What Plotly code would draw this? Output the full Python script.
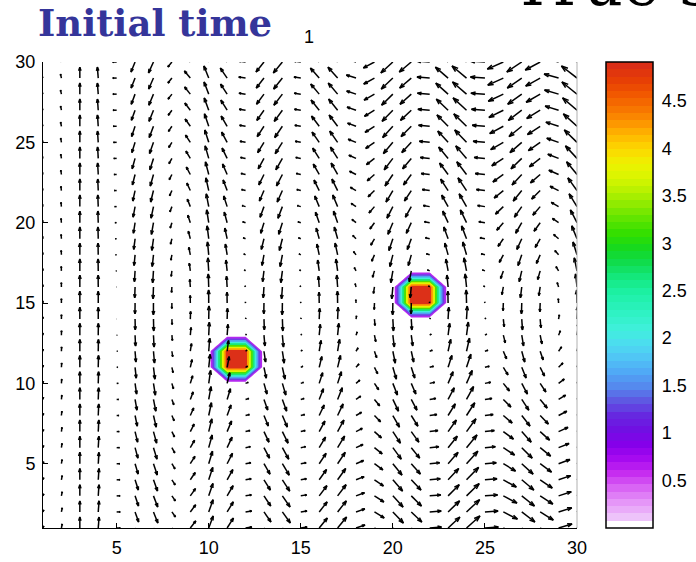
import numpy as np
import plotly.graph_objects as go

# ---------------- data ----------------
grid_x = list(range(1, 31))
grid_y = list(range(1, 31))

# top-row velocity components for every column (x-units, y-units)
u_top = [-0.05, -0.05, 0.00, -0.05, -0.22, -0.22, -0.27, -0.22, -0.33, -0.27,
         -0.38, -0.38, -0.43, -0.49, -0.38, -0.49, -0.54, -0.54, -0.60, -0.65,
         -0.65, -0.71, -0.71, -0.81, -0.81, -0.87, -0.81, -0.81, -0.81, -0.87]
v_col = [0.12, 0.25, 0.68, 0.68, 0.00, -0.62, -0.68, -0.31, 0.44, 0.75,
         0.62, 0.06, -0.62, -0.68, 0.06, 0.62, 0.68, 0.19, -0.37, -0.68,
         -0.62, 0.06, 0.68, 0.75, 0.06, -0.44, -0.62, -0.50, 0.25, 0.75]
# row factors (row 1 = bottom ... row 30 = top)
u_row = [-0.90, -0.88, -0.85, -0.81, -0.76, -0.70, -0.63, -0.55, -0.47, -0.38,
         -0.29, -0.20, -0.12, -0.05, 0.02, 0.09, 0.17, 0.25, 0.33, 0.41,
         0.49, 0.57, 0.65, 0.72, 0.79, 0.85, 0.90, 0.94, 0.97, 1.00]
v_row = [1.00, 1.01, 1.02, 1.03, 1.04, 1.05, 1.06, 1.06, 1.07, 1.07,
         1.08, 1.08, 1.08, 1.08, 1.08, 1.08, 1.08, 1.07, 1.07, 1.06,
         1.06, 1.05, 1.05, 1.04, 1.03, 1.03, 1.02, 1.01, 1.00, 1.00]

# scalar field: peak cells of the two blobs
peak_x = [11, 12, 11, 12, 21, 22, 21, 22]
peak_y = [11, 11, 12, 12, 15, 15, 16, 16]
peak_v = [4.9, 4.9, 4.9, 4.9, 4.9, 4.9, 4.9, 4.9]

contour_levels = dict(start=0.5, end=4.5, size=0.5)
cbar_ticks = [0.5, 1, 1.5, 2, 2.5, 3, 3.5, 4, 4.5]
cbar_max = 4.91

# ---------------- layout geometry ----------------
W, H = 696, 562
ML, MR, MT, MB = 43, 119, 62, 34
pw, ph = W - ML - MR, H - MT - MB
sx = pw / (grid_x[-1] - grid_x[0])
sy = ph / (grid_y[-1] - grid_y[0])
CB_LEFT, CB_W = 606, 47

# ---------------- colours ----------------
anchors = [
    (0.00, "#ffffff"), (0.08, "#ecc0fa"), (0.25, "#e490f8"), (0.40, "#d860f4"),
    (0.55, "#c428f0"), (0.70, "#a408f0"), (0.85, "#8400ea"), (1.00, "#7010e2"),
    (1.15, "#6628e0"), (1.30, "#5e58e2"), (1.45, "#5588ee"), (1.60, "#50a8f6"),
    (1.75, "#50c4f6"), (1.90, "#4cdcf0"), (2.05, "#40f0dc"), (2.25, "#2cf2c0"),
    (2.45, "#1cf0a2"), (2.60, "#14e87e"), (2.75, "#10dc50"), (2.90, "#14d820"),
    (3.05, "#30de00"), (3.20, "#5ae400"), (3.35, "#88ea00"), (3.50, "#b4f000"),
    (3.65, "#d8f600"), (3.80, "#eef200"), (3.95, "#fcd800"), (4.10, "#ffb800"),
    (4.25, "#fc9000"), (4.40, "#f67000"), (4.55, "#f05400"), (4.70, "#e63c06"),
    (4.85, "#da2c18"), (4.91, "#d82a1a"),
]


def hex2rgb(h):
    h = h.lstrip("#")
    return [int(h[i:i + 2], 16) for i in (0, 2, 4)]


def cmap(val):
    for (a0, c0), (a1, c1) in zip(anchors[:-1], anchors[1:]):
        if a0 <= val <= a1:
            t = 0 if a1 == a0 else (val - a0) / (a1 - a0)
            r0, r1 = hex2rgb(c0), hex2rgb(c1)
            return "rgb(%d,%d,%d)" % tuple(round(r0[i] + t * (r1[i] - r0[i])) for i in range(3))
    return "rgb(%d,%d,%d)" % tuple(hex2rgb(anchors[-1][1]))


NB = 64
cb_scale = []
for i in range(NB):
    c = cmap(i * cbar_max / NB)
    cb_scale.append([i / NB, c])
    cb_scale.append([(i + 1) / NB, c])

# contour band colours (below first level, then each band upward)
band_cols = ["#ffffff", "#b428f0", "#6a40e4", "#50a0f4", "#40ecdc",
             "#18e878", "#50e000", "#e4f400", "#ffa400", "#dc3018"]
nb = len(band_cols)
cont_scale = []
for i, c in enumerate(band_cols):
    lo = max(0, (i - 0.5) / (nb - 1))
    hi = min(1, (i + 0.5) / (nb - 1))
    cont_scale.append([lo, c])
    cont_scale.append([hi, c])

# ---------------- build field ----------------
z = np.zeros((len(grid_y), len(grid_x)))
for px_, py_, pv in zip(peak_x, peak_y, peak_v):
    z[grid_y.index(py_), grid_x.index(px_)] = pv

fig = go.Figure()
fig.add_trace(go.Contour(
    x=grid_x, y=grid_y, z=z,
    contours=dict(coloring="fill", showlines=False, **contour_levels),
    autocontour=False,
    colorscale=cont_scale, showscale=False,
    line=dict(width=0, smoothing=0),
    hoverinfo="skip",
))

# quiver (MATLAB-style arrows, computed in pixel space)
alpha, beta = 0.33, 0.33
qx, qy = [], []
for j, yv in enumerate(grid_y):
    for k, xv in enumerate(grid_x):
        u = u_top[k] * u_row[j]
        v = v_col[k] * v_row[j]
        du, dv = u * sx, v * sy
        hx, hy = xv + u, yv + v
        b1x = hx + (-alpha * (du + beta * dv)) / sx
        b1y = hy + (-alpha * (dv - beta * du)) / sy
        b2x = hx + (-alpha * (du - beta * dv)) / sx
        b2y = hy + (-alpha * (dv + beta * du)) / sy
        qx += [xv, hx, None, b1x, hx, b2x, None]
        qy += [yv, hy, None, b1y, hy, b2y, None]

fig.add_trace(go.Scatter(x=qx, y=qy, mode="lines",
                         line=dict(color="black", width=1.5),
                         hoverinfo="skip", showlegend=False))

# colour bar (64-step colormap)
fig.add_trace(go.Scatter(
    x=[-10], y=[-10], mode="markers", showlegend=False, hoverinfo="skip",
    marker=dict(size=1, color=[0], cmin=0, cmax=cbar_max, colorscale=cb_scale,
                showscale=True,
                colorbar=dict(
                    x=(CB_LEFT - ML) / pw, xanchor="left", xpad=0,
                    y=0.5, yanchor="middle", ypad=0,
                    len=ph, lenmode="pixels",
                    thickness=CB_W, thicknessmode="pixels",
                    outlinewidth=1.5, outlinecolor="black",
                    tickvals=cbar_ticks, ticks="outside", ticklen=5,
                    tickcolor="rgba(0,0,0,0)",
                    tickfont=dict(family="Liberation Sans, Arial", size=18, color="black"),
                )),
))

# inside tick marks on both edges of the colour bar
shapes = [dict(type="line", xref="paper", yref="paper", x0=1, x1=1, y0=0, y1=1,
               line=dict(color="#b0b0b0", width=1))]
xl = (CB_LEFT - ML) / pw
xr = (CB_LEFT + CB_W - ML) / pw
tk = 4 / pw
for tv in cbar_ticks:
    yp = tv / cbar_max
    shapes.append(dict(type="line", xref="paper", yref="paper", x0=xl, x1=xl + tk,
                       y0=yp, y1=yp, line=dict(color="black", width=1)))
    shapes.append(dict(type="line", xref="paper", yref="paper", x0=xr - tk, x1=xr,
                       y0=yp, y1=yp, line=dict(color="black", width=1)))

axis_common = dict(showgrid=False, zeroline=False, showline=True, linecolor="black",
                   linewidth=1, mirror=False, ticks="inside", ticklen=5,
                   tickcolor="black",
                   tickfont=dict(family="Liberation Sans, Arial", size=18, color="black"))

fig.update_layout(
    width=W, height=H,
    margin=dict(l=ML, r=MR, t=MT, b=MB, autoexpand=False),
    paper_bgcolor="white", plot_bgcolor="white",
    showlegend=False,
    xaxis=dict(range=[1, 30], tickvals=[5, 10, 15, 20, 25, 30], ticklabelstandoff=3, **axis_common),
    yaxis=dict(range=[1, 30], tickvals=[5, 10, 15, 20, 25, 30], ticklabelstandoff=3, **axis_common),
    shapes=shapes,
    annotations=[
        dict(text="<b>Initial time</b>", xref="paper", yref="paper",
             x=(36 - ML) / pw, y=(MT + ph - 23) / ph, xanchor="left", yanchor="middle",
             showarrow=False,
             font=dict(family="DejaVu Serif", size=37, color="#35359a")),
        dict(text="1", xref="paper", yref="paper",
             x=(309 - ML) / pw, y=(MT + ph - 37) / ph, xanchor="center", yanchor="middle",
             showarrow=False,
             font=dict(family="Liberation Sans, Arial", size=18, color="black")),
        dict(text="True s", xref="paper", yref="paper",
             x=(510 - ML) / pw, y=(MT + ph + 16) / ph, xanchor="left", yanchor="middle",
             showarrow=False,
             font=dict(family="DejaVu Serif", size=62, color="black")),
    ],
)

fig.write_html("out.html")
